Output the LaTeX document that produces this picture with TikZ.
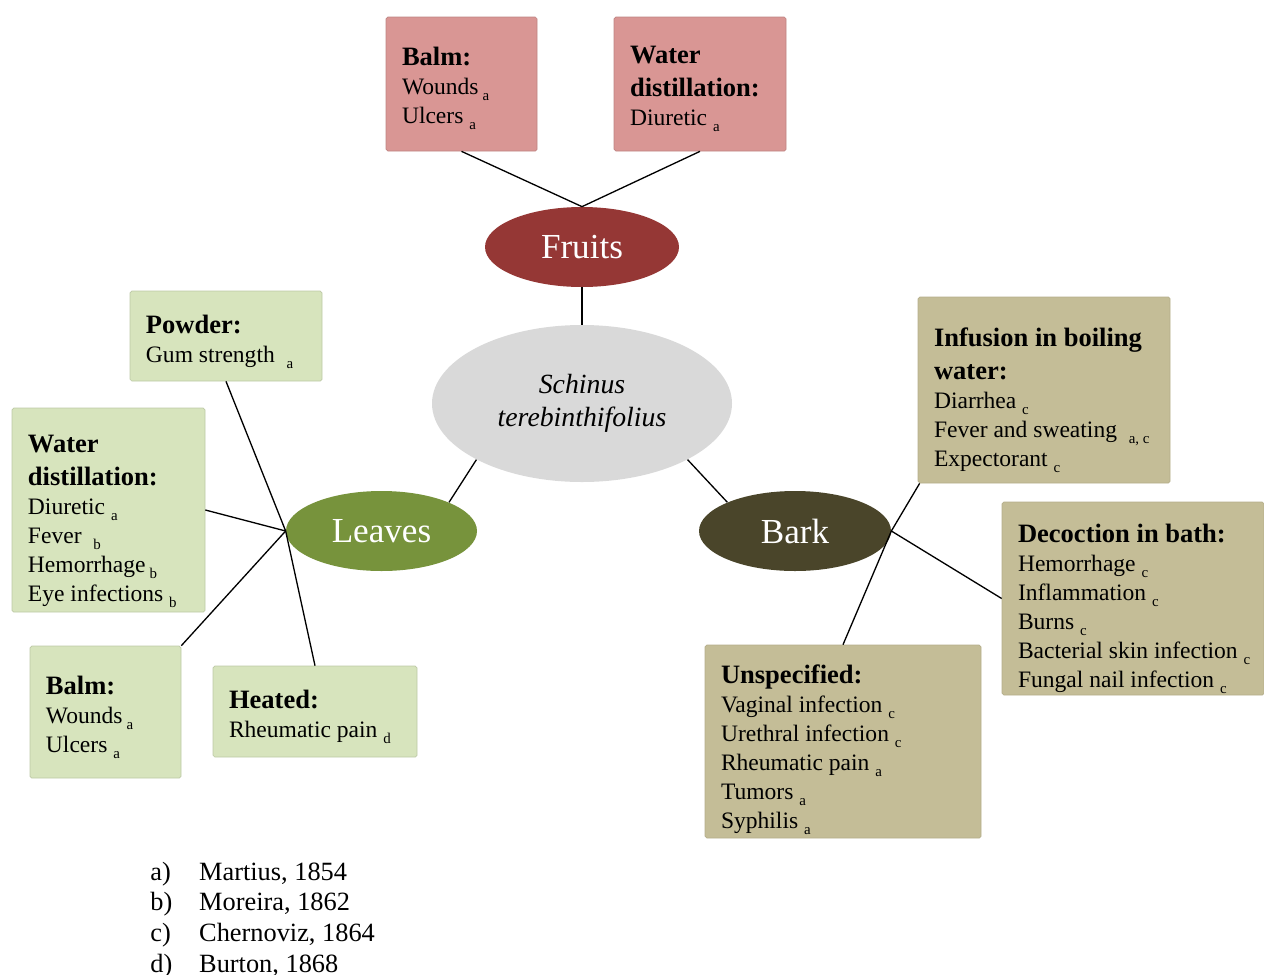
\documentclass[tikz,border=0pt]{standalone}
\usepackage{fontspec}
\setmainfont{Liberation Serif}
\usetikzlibrary{shapes.geometric}
\definecolor{pinkbox}{HTML}{D99694}
\definecolor{greenbox}{HTML}{D7E4BD}
\definecolor{tanbox}{HTML}{C4BD97}
\definecolor{fruitc}{HTML}{953735}
\definecolor{leafc}{HTML}{77933C}
\definecolor{barkc}{HTML}{4A452A}
\definecolor{centc}{HTML}{D9D9D9}
\newcommand{\sbs}[1]{\raisebox{-3.4pt}{\fontsize{8.5}{9}\selectfont #1}}
\newcommand{\hd}[1]{{\fontsize{15.1}{18.7}\selectfont\bfseries #1}}
\tikzset{
  box/.style={rectangle, rounded corners=1pt, inner sep=0pt, line width=0.4pt},
  pbox/.style={box, fill=pinkbox, draw=pinkbox!88!black},
  gbox/.style={box, fill=greenbox, draw=greenbox!88!black},
  tbox/.style={box, fill=tanbox, draw=tanbox!92!black},
  btxt/.style={align=left, inner sep=0pt, font=\fontsize{13.4}{16.5}\selectfont, anchor=west},
  oval/.style={ellipse, inner sep=0pt, font=\fontsize{20}{24}\selectfont, text=white},
  link/.style={line width=0.75pt, draw=black},
}
\newcommand{\boxtext}[3]{\node[btxt] (#1t) at ([xshift=0.32cm,yshift={(4-#2)*0.02cm}]#1.west) {#3};}
\begin{document}
\begin{tikzpicture}[x=0.02cm,y=-0.02cm]
\useasboundingbox (0,0) rectangle (1264,974);

% ellipses
\node[oval, fill=fruitc, minimum width=194*0.02cm, minimum height=80*0.02cm] (fruits) at (582,247) {Fruits};
\node[ellipse, inner sep=0pt, fill=centc, minimum width=300*0.02cm, minimum height=157*0.02cm, align=center, font=\fontsize{15.8}{18.7}\selectfont\itshape] (center) at (582,403.5) {Schinus\\terebinthifolius};
\node[oval, fill=leafc, minimum width=191*0.02cm, minimum height=80*0.02cm] (leaves) at (381.5,531) {Leaves};
\node[oval, fill=barkc, minimum width=192*0.02cm, minimum height=80*0.02cm] (bark) at (795,531) {Bark};

% fruit boxes
\node[pbox, minimum width=151*0.02cm, minimum height=134*0.02cm] (f1) at (461.5,84) {};
\boxtext{f1}{8}{\hd{Balm:}\\Wounds\,\sbs{a}\\Ulcers \sbs{a}}
\node[pbox, minimum width=172*0.02cm, minimum height=134*0.02cm] (f2) at (700,84) {};
\boxtext{f2}{8.5}{\hd{Water}\\[2.2pt]\hd{distillation:}\\Diuretic \sbs{a}}

% leaf boxes
\node[gbox, minimum width=192*0.02cm, minimum height=90*0.02cm] (l1) at (226,336) {};
\boxtext{l1}{9.5}{\hd{Powder:}\\Gum strength \ \sbs{a}}
\node[gbox, minimum width=193*0.02cm, minimum height=204*0.02cm] (l2) at (108.5,510) {};
\boxtext{l2}{15}{\hd{Water}\\[2.2pt]\hd{distillation:}\\Diuretic \sbs{a}\\Fever \ \sbs{b}\\Hemorrhage\,\sbs{b}\\Eye infections \sbs{b}}
\node[gbox, minimum width=151*0.02cm, minimum height=132*0.02cm] (l3) at (105.5,712) {};
\boxtext{l3}{9}{\hd{Balm:}\\Wounds\,\sbs{a}\\Ulcers \sbs{a}}
\node[gbox, minimum width=204*0.02cm, minimum height=91*0.02cm] (l4) at (315,711.5) {};
\boxtext{l4}{9.5}{\hd{Heated:}\\Rheumatic pain \sbs{d}}

% bark boxes
\node[tbox, minimum width=252*0.02cm, minimum height=186*0.02cm] (b1) at (1044,390) {};
\boxtext{b1}{14}{\hd{Infusion in boiling}\\[2.2pt]\hd{water:}\\Diarrhea \sbs{c}\\Fever and sweating \ \sbs{a, c}\\Expectorant \sbs{c}}
\node[tbox, minimum width=262*0.02cm, minimum height=193*0.02cm] (b2) at (1133,598.5) {};
\boxtext{b2}{14}{\hd{Decoction in bath:}\\Hemorrhage \sbs{c}\\Inflammation \sbs{c}\\Burns \sbs{c}\\Bacterial skin infection \sbs{c}\\Fungal nail infection \sbs{c}}
\node[tbox, minimum width=276*0.02cm, minimum height=193*0.02cm] (b3) at (843,741.5) {};
\boxtext{b3}{12.5}{\hd{Unspecified:}\\Vaginal infection \sbs{c}\\Urethral infection \sbs{c}\\Rheumatic pain \sbs{a}\\Tumors \sbs{a}\\Syphilis \sbs{a}}

% connectors
\draw[link] (f1.south) -- (fruits.north);
\draw[link] (f2.south) -- (fruits.north);
\draw[link] (fruits.south) -- (center.north);
\draw[link] (center.208) -- (leaves.23);
\draw[link] (center.332) -- (bark.157);
\draw[link] (l1.south) -- (leaves.west) -- (l4.north);
\draw[link] (l2.east) -- (leaves.west);
\draw[link] (l3.north east) -- (leaves.west);
\draw[link] ([xshift=0.04cm]b1.south west) -- (bark.east) -- (b3.north);
\draw[link] (bark.east) -- (b2.west);

% legend
\node[anchor=base west, inner sep=0pt, font=\fontsize{15}{17.6}\selectfont] (legend) at (150,880)
  {\begin{tabular}[t]{@{}p{27.8pt}@{}l@{}}a) & Martius, 1854\\ b) & Moreira, 1862\\ c) & Chernoviz, 1864\\ d) & Burton, 1868\end{tabular}};
\end{tikzpicture}
\end{document}
